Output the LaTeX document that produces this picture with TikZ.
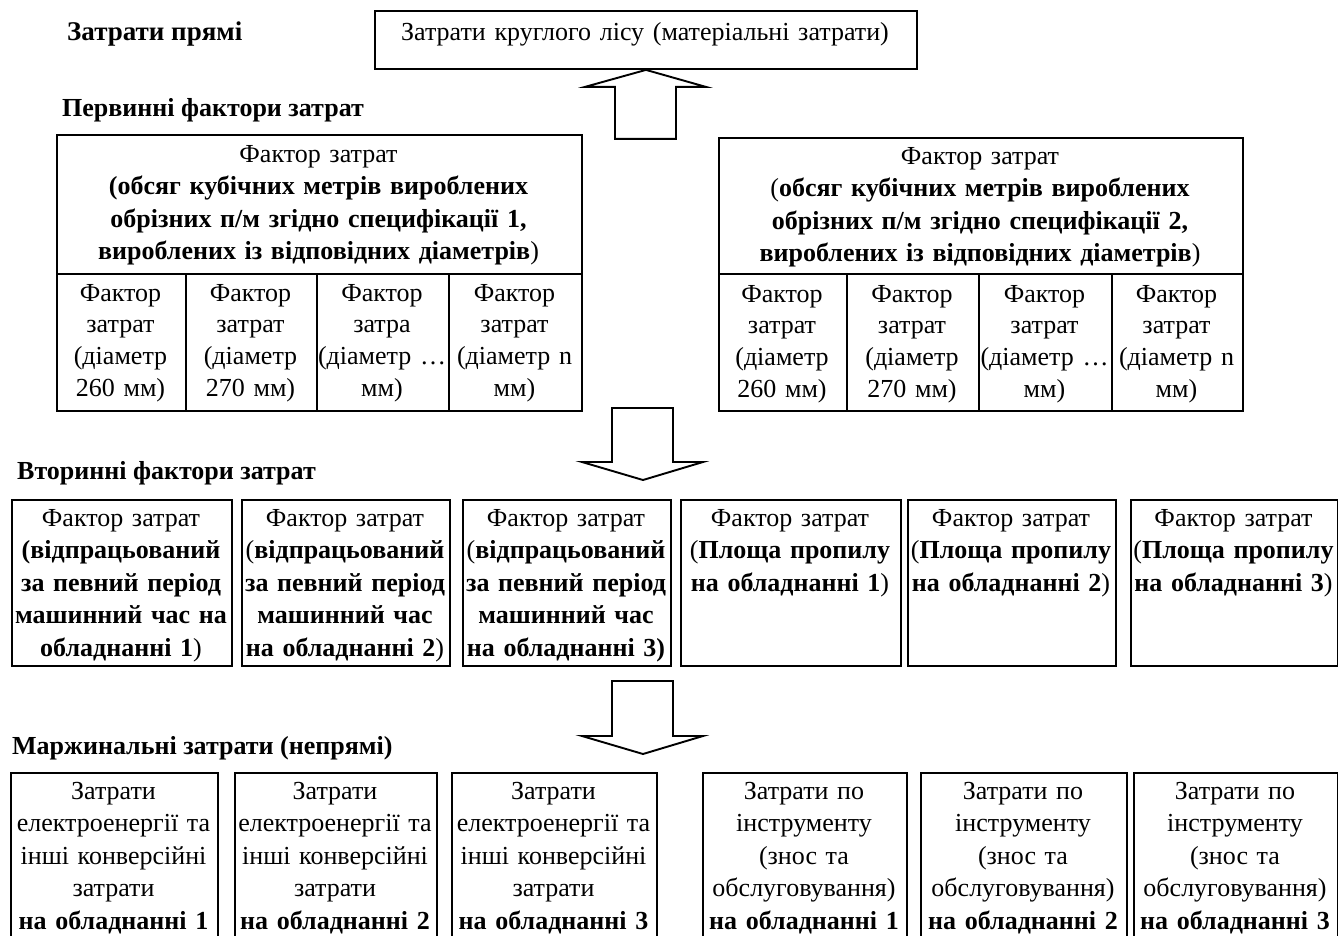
\documentclass[tikz,border=0pt]{standalone}
\usepackage{fontspec}
\setmainfont{Liberation Serif}
\tikzset{
  box/.style={draw, line width=1.9pt, inner sep=0pt, anchor=north west},
  txt/.style={align=center, inner sep=0pt, anchor=base, text width=300pt,
    font=\fontsize{26}{32.5}\selectfont},
  cell/.style={align=center, inner sep=0pt, anchor=base, text width=200pt,
    font=\fontsize{26}{31.7}\selectfont},
  head/.style={inner sep=0pt, anchor=base west, font=\fontsize{26}{32}\selectfont\bfseries},
  blk/.style={draw, line width=1.9pt, line join=miter}
}
\begin{document}
\begin{tikzpicture}[x=1pt,y=-1pt]
\path[use as bounding box] (0,0) rectangle (1338,935);

% headings
\node[head, font=\fontsize{27}{32}\selectfont\bfseries] (h1) at (67,40) {Затрати прямі};
\node[head] (h2) at (62,116) {Первинні фактори затрат};
\node[head] (h3) at (17,479) {Вторинні фактори затрат};
\node[head] (h4) at (12,754) {Маржинальні затрати (непрямі)};

% top box
\node[box, minimum width=542pt, minimum height=58pt] (top) at (374,10) {};
\node[txt, text width=560pt] (topt) at (645,40) {Затрати круглого лісу (матеріальні затрати)};

% left primary table
\node[box, minimum width=525pt, minimum height=139pt] (L) at (56,134) {};
\node[box, minimum width=129pt, minimum height=137pt] (L1) at (56,273) {};
\node[box, minimum width=131pt, minimum height=137pt] (L2) at (185,273) {};
\node[box, minimum width=132pt, minimum height=137pt] (L3) at (316,273) {};
\node[box, minimum width=133pt, minimum height=137pt] (L4) at (448,273) {};
\node[txt, text width=560pt] (Lt) at (318.5,162) {Фактор затрат\\
  \textbf{(обсяг кубічних метрів вироблених}\\
  \textbf{обрізних п/м згідно специфікації 1,}\\
  \textbf{вироблених із відповідних діаметрів})};
\node[cell] (L1t) at (120.5,301) {Фактор\\затрат\\(діаметр\\260 мм)};
\node[cell] (L2t) at (250.5,301) {Фактор\\затрат\\(діаметр\\270 мм)};
\node[cell] (L3t) at (382,301) {Фактор\\затра\\(діаметр …\\мм)};
\node[cell] (L4t) at (514.5,301) {Фактор\\затрат\\(діаметр n\\мм)};

% right primary table
\node[box, minimum width=524pt, minimum height=136pt] (R) at (718,137) {};
\node[box, minimum width=128pt, minimum height=137pt] (R1) at (718,273) {};
\node[box, minimum width=132pt, minimum height=137pt] (R2) at (846,273) {};
\node[box, minimum width=133pt, minimum height=137pt] (R3) at (978,273) {};
\node[box, minimum width=131pt, minimum height=137pt] (R4) at (1111,273) {};
\node[txt, text width=560pt] (Rt) at (980,164) {Фактор затрат\\
  (\textbf{обсяг кубічних метрів вироблених}\\
  \textbf{обрізних п/м згідно специфікації 2,}\\
  \textbf{вироблених із відповідних діаметрів})};
\node[cell] (R1t) at (782,302) {Фактор\\затрат\\(діаметр\\260 мм)};
\node[cell] (R2t) at (912,302) {Фактор\\затрат\\(діаметр\\270 мм)};
\node[cell] (R3t) at (1044.5,302) {Фактор\\затрат\\(діаметр …\\мм)};
\node[cell] (R4t) at (1176.5,302) {Фактор\\затрат\\(діаметр n\\мм)};

% secondary factors
\node[box, minimum width=220pt, minimum height=166pt] (S1) at (11,499) {};
\node[box, minimum width=208pt, minimum height=166pt] (S2) at (241,499) {};
\node[box, minimum width=208pt, minimum height=166pt] (S3) at (462,499) {};
\node[box, minimum width=220pt, minimum height=166pt] (S4) at (680,499) {};
\node[box, minimum width=208pt, minimum height=166pt] (S5) at (907,499) {};
\node[box, minimum width=207pt, minimum height=166pt] (S6) at (1130,499) {};
\node[txt] (S1t) at (121,526) {Фактор затрат\\\textbf{(відпрацьований}\\\textbf{за певний період}\\\textbf{машинний час на}\\\textbf{обладнанні 1})};
\node[txt] (S2t) at (345,526) {Фактор затрат\\(\textbf{відпрацьований}\\\textbf{за певний період}\\\textbf{машинний час}\\\textbf{на обладнанні 2})};
\node[txt] (S3t) at (566,526) {Фактор затрат\\(\textbf{відпрацьований}\\\textbf{за певний період}\\\textbf{машинний час}\\\textbf{на обладнанні 3)}};
\node[txt] (S4t) at (790,526) {Фактор затрат\\(\textbf{Площа пропилу}\\\textbf{на обладнанні 1})};
\node[txt] (S5t) at (1011,526) {Фактор затрат\\(\textbf{Площа пропилу}\\\textbf{на обладнанні 2})};
\node[txt] (S6t) at (1233.5,526) {Фактор затрат\\(\textbf{Площа пропилу}\\\textbf{на обладнанні 3})};

% marginal costs
\node[box, minimum width=207pt, minimum height=170pt] (B1) at (10,772) {};
\node[box, minimum width=202pt, minimum height=170pt] (B2) at (234,772) {};
\node[box, minimum width=205pt, minimum height=170pt] (B3) at (451,772) {};
\node[box, minimum width=204pt, minimum height=170pt] (B4) at (702,772) {};
\node[box, minimum width=206pt, minimum height=170pt] (B5) at (920,772) {};
\node[box, minimum width=204pt, minimum height=170pt] (B6) at (1133,772) {};
\node[txt] (B1t) at (113.5,799) {Затрати\\електроенергії та\\інші конверсійні\\затрати\\\textbf{на обладнанні 1}};
\node[txt] (B2t) at (335,799) {Затрати\\електроенергії та\\інші конверсійні\\затрати\\\textbf{на обладнанні 2}};
\node[txt] (B3t) at (553.5,799) {Затрати\\електроенергії та\\інші конверсійні\\затрати\\\textbf{на обладнанні 3}};
\node[txt] (B4t) at (804,799) {Затрати по\\інструменту\\(знос та\\обслуговування)\\\textbf{на обладнанні 1}};
\node[txt] (B5t) at (1023,799) {Затрати по\\інструменту\\(знос та\\обслуговування)\\\textbf{на обладнанні 2}};
\node[txt] (B6t) at (1235,799) {Затрати по\\інструменту\\(знос та\\обслуговування)\\\textbf{на обладнанні 3}};

% block arrows
\draw[blk] (top.south) -- ++(60,17) -- ++(-30,0) -- ++(0,52) -- ++(-61,0) -- ++(0,-52) -- ++(-30,0) -- cycle;
\coordinate (d1) at (643,480);
\draw[blk] (d1) -- ++(60,-18) -- ++(-30,0) -- ++(0,-54) -- ++(-61,0) -- ++(0,54) -- ++(-30,0) -- cycle;
\coordinate (d2) at (643,754);
\draw[blk] (d2) -- ++(60,-18) -- ++(-30,0) -- ++(0,-55) -- ++(-61,0) -- ++(0,55) -- ++(-30,0) -- cycle;
\end{tikzpicture}
\end{document}
